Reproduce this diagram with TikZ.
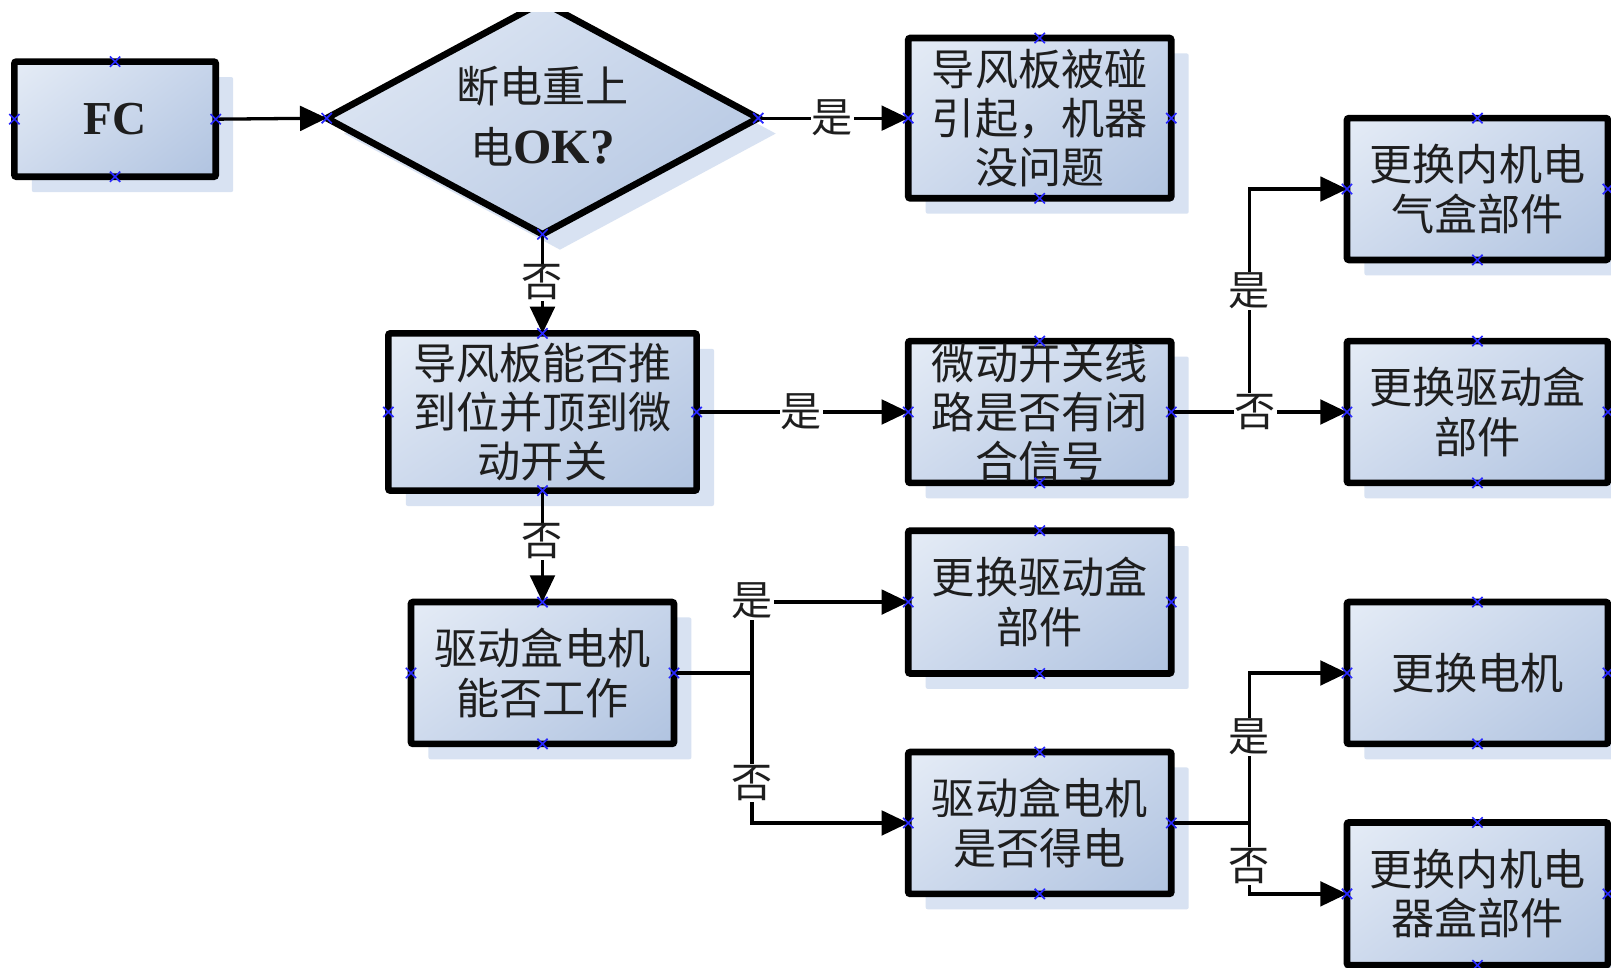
\documentclass[tikz,border=0pt]{standalone}
\usepackage{fontspec}
\usetikzlibrary{arrows.meta,shapes.geometric,shadows,shadings}
\newfontfamily\cjk{Noto Sans CJK SC}
\newfontfamily\lat{Liberation Serif}
\definecolor{ul}{RGB}{229,236,246}
\definecolor{ur}{RGB}{198,212,234}
\definecolor{ll}{RGB}{206,218,237}
\definecolor{lr}{RGB}{176,195,224}
\definecolor{shd}{RGB}{216,226,242}
\definecolor{txt}{RGB}{30,30,30}
\definecolor{mk}{RGB}{40,40,255}
\tikzset{
  shadowed/.style={drop shadow={shadow xshift=17pt, shadow yshift=-15pt, fill=shd, opacity=1}},
  box/.style={draw=black, line width=6.5pt, rounded corners=2pt, outer sep=0pt,
    upper left=ul, upper right=ur, lower left=ll, lower right=lr,
    minimum width=256pt, minimum height=138pt, inner sep=0pt,
    align=center, text=txt, font=\cjk\fontsize{42}{48}\selectfont, shadowed},
  dia/.style={diamond, draw=black, line width=6.5pt, outer sep=0pt,
    upper left=ul, upper right=ur, lower left=ll, lower right=lr,
    minimum width=420pt, minimum height=226pt, inner sep=0pt, shadowed},
  conn/.style={line width=3.2pt, draw=black, -{Triangle[length=26pt,width=24pt]}},
  plain/.style={line width=3.2pt, draw=black},
  lab/.style={fill=white, inner sep=1pt, text=txt, font=\cjk\fontsize{40}{40}\selectfont},
  xmark/.style={draw=mk, line width=1.6pt}
}
\begin{document}
\begin{tikzpicture}[x=1pt,y=-1pt]
\useasboundingbox (0,0) rectangle (1568,942);
\fill[white] (0,0) rectangle (1568,942);

% boxes
\node[box, minimum width=196pt, minimum height=112pt] (fc) at (112,116) {\lat\bfseries\fontsize{46}{46}\selectfont FC};
\begin{scope}
\clip (0,12) rectangle (1568,942);
\node[dia] (d) at (528,115) {};
\end{scope}
\node[align=center, text=txt, font=\cjk\fontsize{42}{60}\selectfont] (dt) at (528,113) {断电重上\\电{\lat\bfseries\fontsize{48}{48}\selectfont OK?}};

\node[box, minimum height=156pt] (b1) at (1012,115) {导风板被碰\\引起，机器\\没问题};
\node[box, minimum width=254pt] (b2) at (1438,184) {更换内机电\\气盒部件};
\node[box, minimum width=300pt, minimum height=153pt] (b3) at (528,401) {导风板能否推\\到位并顶到微\\动开关};
\node[box] (b4) at (1012,401) {微动开关线\\路是否有闭\\合信号};
\node[box, minimum width=254pt] (b5) at (1438,401) {更换驱动盒\\部件};
\node[box] (b6) at (528,655) {驱动盒电机\\能否工作};
\node[box, minimum height=139pt] (b7) at (1012,586) {更换驱动盒\\部件};
\node[box] (b8) at (1012,801) {驱动盒电机\\是否得电};
\node[box, minimum width=254pt] (b9) at (1438,655) {更换电机};
\node[box, minimum width=254pt, minimum height=139pt] (b10) at (1438,870) {更换内机电\\器盒部件};

% junctions
\coordinate (j1) at (1216,401);
\coordinate (j2) at (732,655);
\coordinate (j3) at (1216,801);

% connectors
\draw[conn] (fc.east) -- (d.west);
\draw[conn] (d.east) -- (b1.west);
\draw[conn] (d.south) -- (b3.north);
\draw[conn] (b3.east) -- (b4.west);
\draw[conn] (b3.south) -- (b6.north);
\draw[conn] (b4.east) -- (b5.west);
\draw[plain] (b4.east) -- (j1);
\draw[conn] (j1) |- (b2.west);
\draw[plain] (b6.east) -- (j2);
\draw[conn] (j2) |- (b7.west);
\draw[conn] (j2) |- (b8.west);
\draw[conn] (b8.east) -- (j3) |- (b9.west);
\draw[conn] (j3) |- (b10.west);

% labels
\node[lab] (l1) at (810,115) {是};
\node[lab] (l2) at (528,275) {否};
\node[lab] (l3) at (780,401) {是};
\node[lab] (l4) at (528,527) {否};
\node[lab] (l5) at (1216,283) {是};
\node[lab] (l6) at (1222,401) {否};
\node[lab] (l7) at (732,585) {是};
\node[lab] (l8) at (732,762) {否};
\node[lab] (l9) at (1216,717) {是};
\node[lab] (l10) at (1216,843) {否};

% connection point markers
\foreach \n in {fc,b1,b2,b3,b4,b5,b6,b7,b8,b9,b10}
  \foreach \a in {north,south,east,west}
    \draw[xmark] (\n.\a) +(-5,-5) -- +(5,5) +(-5,5) -- +(5,-5);
\foreach \a in {west,east,south}
  \draw[xmark] (d.\a) +(-5,-5) -- +(5,5) +(-5,5) -- +(5,-5);
\end{tikzpicture}
\end{document}
